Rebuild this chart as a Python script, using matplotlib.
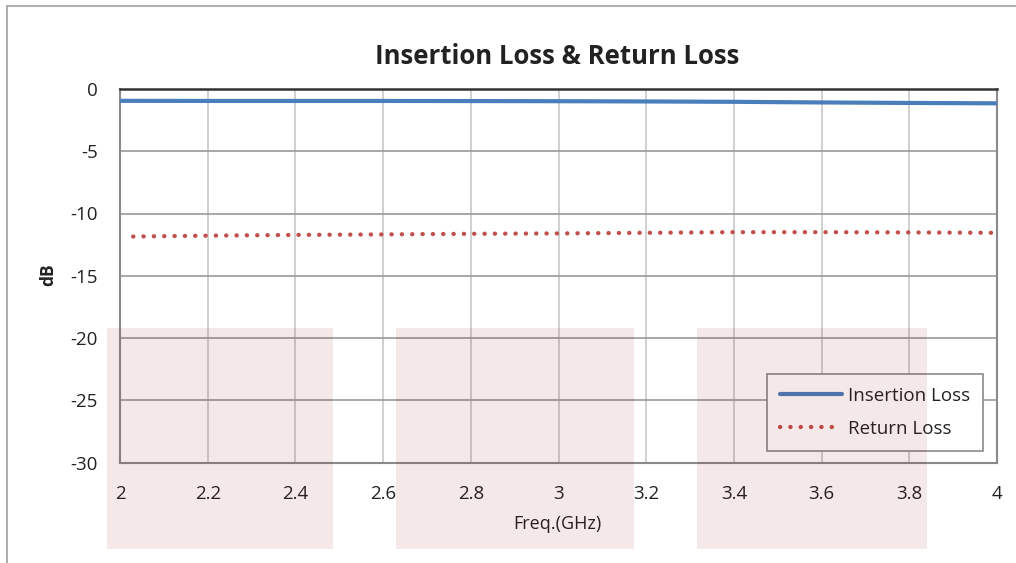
import numpy as np
import matplotlib.pyplot as plt
from matplotlib.patches import Rectangle

plt.rcParams['font.family'] = ['Open Sans', 'DejaVu Sans']
plt.rcParams['axes.unicode_minus'] = False

freq = [2.0, 2.2, 2.4, 2.6, 2.8, 3.0, 3.2, 3.4, 3.6, 3.8, 4.0]
insertion_loss = [-0.95, -0.96, -0.96, -0.96, -0.97, -0.98, -1.0, -1.03, -1.08, -1.12, -1.15]

freq_rl = [2.03, 2.2, 2.4, 2.6, 2.8, 3.0, 3.2, 3.4, 3.6, 3.8, 4.0]
return_loss = [-11.85, -11.78, -11.72, -11.68, -11.63, -11.6, -11.55, -11.5, -11.5, -11.52, -11.55]

xticks = [2, 2.2, 2.4, 2.6, 2.8, 3, 3.2, 3.4, 3.6, 3.8, 4]
xtick_labels = ['2', '2.2', '2.4', '2.6', '2.8', '3', '3.2', '3.4', '3.6', '3.8', '4']
yticks = [0, -5, -10, -15, -20, -25, -30]

W, H = 1016, 563
fig = plt.figure(figsize=(W / 100, H / 100), dpi=100)
ax = fig.add_axes([120 / W, 1 - 462.5 / H, 877 / W, 373.5 / H])
ax.set_facecolor('white')

ax.plot(freq, insertion_loss, color='#4a7ebb', lw=3, solid_capstyle='round',
        label='Insertion Loss', zorder=3)
ax.plot(freq_rl, return_loss, color='#c0504d', lw=3.1, linestyle=(0, (0.05, 2.35)),
        dash_capstyle='round', label='Return Loss', zorder=3)

ax.set_xlim(2, 4)
ax.set_ylim(-30, 0)
ax.set_xticks(xticks)
ax.set_xticklabels(xtick_labels)
ax.set_yticks(yticks)
ax.tick_params(length=0, labelsize=13.5, colors='#222222')
ax.tick_params(axis='x', pad=16)
ax.tick_params(axis='y', pad=16)
ax.grid(axis='x', color='#c8c8c8', lw=1.2)
ax.grid(axis='y', color='#9a9a9a', lw=1.2)
ax.set_axisbelow(True)
for s in ['left', 'bottom', 'right']:
    ax.spines[s].set_color('#8a8a8a')
    ax.spines[s].set_linewidth(1.5)
ax.spines['top'].set_color('#333333')
ax.spines['top'].set_linewidth(1.8)

fig.text(557 / W, 1 - 57 / H, 'Insertion Loss & Return Loss', ha='center', va='center',
         fontsize=18.5, fontweight='bold', color='#222222')
fig.text(48 / W, 1 - 275 / H, 'dB', ha='center', va='center', rotation=90,
         fontsize=12.5, fontweight='bold', color='#222222')
fig.text(557 / W, 1 - 524 / H, 'Freq.(GHz)', ha='center', va='center',
         fontsize=13, color='#222222')

leg = ax.legend(loc='lower right', bbox_to_anchor=(983 / W, 1 - 451 / H),
                bbox_transform=fig.transFigure, fancybox=False, framealpha=1,
                edgecolor='#8a8a8a', fontsize=13.5, handlelength=3.3,
                borderpad=0.7, labelspacing=0.8, handletextpad=0.3, borderaxespad=0)
leg.get_frame().set_linewidth(1.2)
for t in leg.get_texts():
    t.set_color('#222222')

# pale pink overlay blocks
for x0, x1 in [(107, 333), (396, 634), (697, 927)]:
    fig.patches.append(Rectangle((x0 / W, 1 - 549 / H), (x1 - x0) / W, 221 / H,
                                 transform=fig.transFigure, facecolor=(135 / 255, 5 / 255, 5 / 255),
                                 alpha=0.09, edgecolor='none', zorder=10))

# outer chart frame
fig.patches.append(Rectangle((7 / W, -0.1), 1.2, 1 - 6 / H + 0.1, transform=fig.transFigure,
                             fill=False, edgecolor='#a0a0a0', lw=1.2, zorder=0))

fig.savefig('out.png', dpi=100)
